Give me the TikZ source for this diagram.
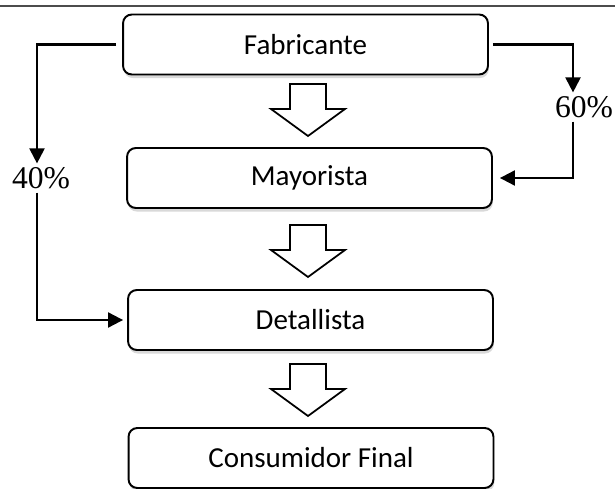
\documentclass[tikz,border=0pt]{standalone}
\usepackage{fontspec}
\setmainfont{Carlito}
\newfontfamily\pctfont{Liberation Serif}
\usetikzlibrary{arrows.meta,shadows}

\begin{document}
\begin{tikzpicture}[x=0.02cm,y=-0.02cm,
		box/.style={draw, line width=1.1pt, rounded corners=5pt, fill=white, minimum width=7.3cm, minimum height=1.2cm, font=\fontsize{16.5}{20}\selectfont, drop shadow={shadow xshift=0.5pt, shadow yshift=-2pt, opacity=0.3, fill=gray}},
		pct/.style={font=\pctfont\fontsize{18}{20}\selectfont, inner xsep=3pt, inner ysep=2pt},
		link/.style={line width=1.2pt, -{Triangle[length=0.3cm,width=0.3cm]}}]
			\useasboundingbox (0,0) rectangle (615,489);
			\draw[line width=1pt, black!70] (0,6)--(615,6);

			\node[box] (fab) at (305.5,44.5) {Fabricante};
			\node[box] (may) at (309.5,178) {Mayorista};
			\node[box] (det) at (310.5,320) {Detallista};
			\node[box] (con) at (311,458) {Consumidor Final};

			\foreach \y in {84,225,364}
				\draw[line width=1pt] (290,\y)--(326,\y)--(326,\y+25)--(345,\y+25)--(308,\y+52)--(271,\y+25)--(290,\y+25)--cycle;

			\node[pct] (p40) at (41,178) {40\%};
			\node[pct] (p60) at (584,107) {60\%};

			\draw[link] ([xshift=-0.12cm]fab.west) -| ([xshift=-0.08cm]p40.north);
			\draw[link] ([xshift=-0.08cm]p40.south) |- ([xshift=-0.08cm]det.west);
			\draw[link] ([xshift=0.08cm]fab.east) -| ([xshift=-0.22cm]p60.north);
			\draw[link] ([xshift=-0.22cm]p60.south) |- ([xshift=0.14cm]may.east);
		\end{tikzpicture}
\end{document}
